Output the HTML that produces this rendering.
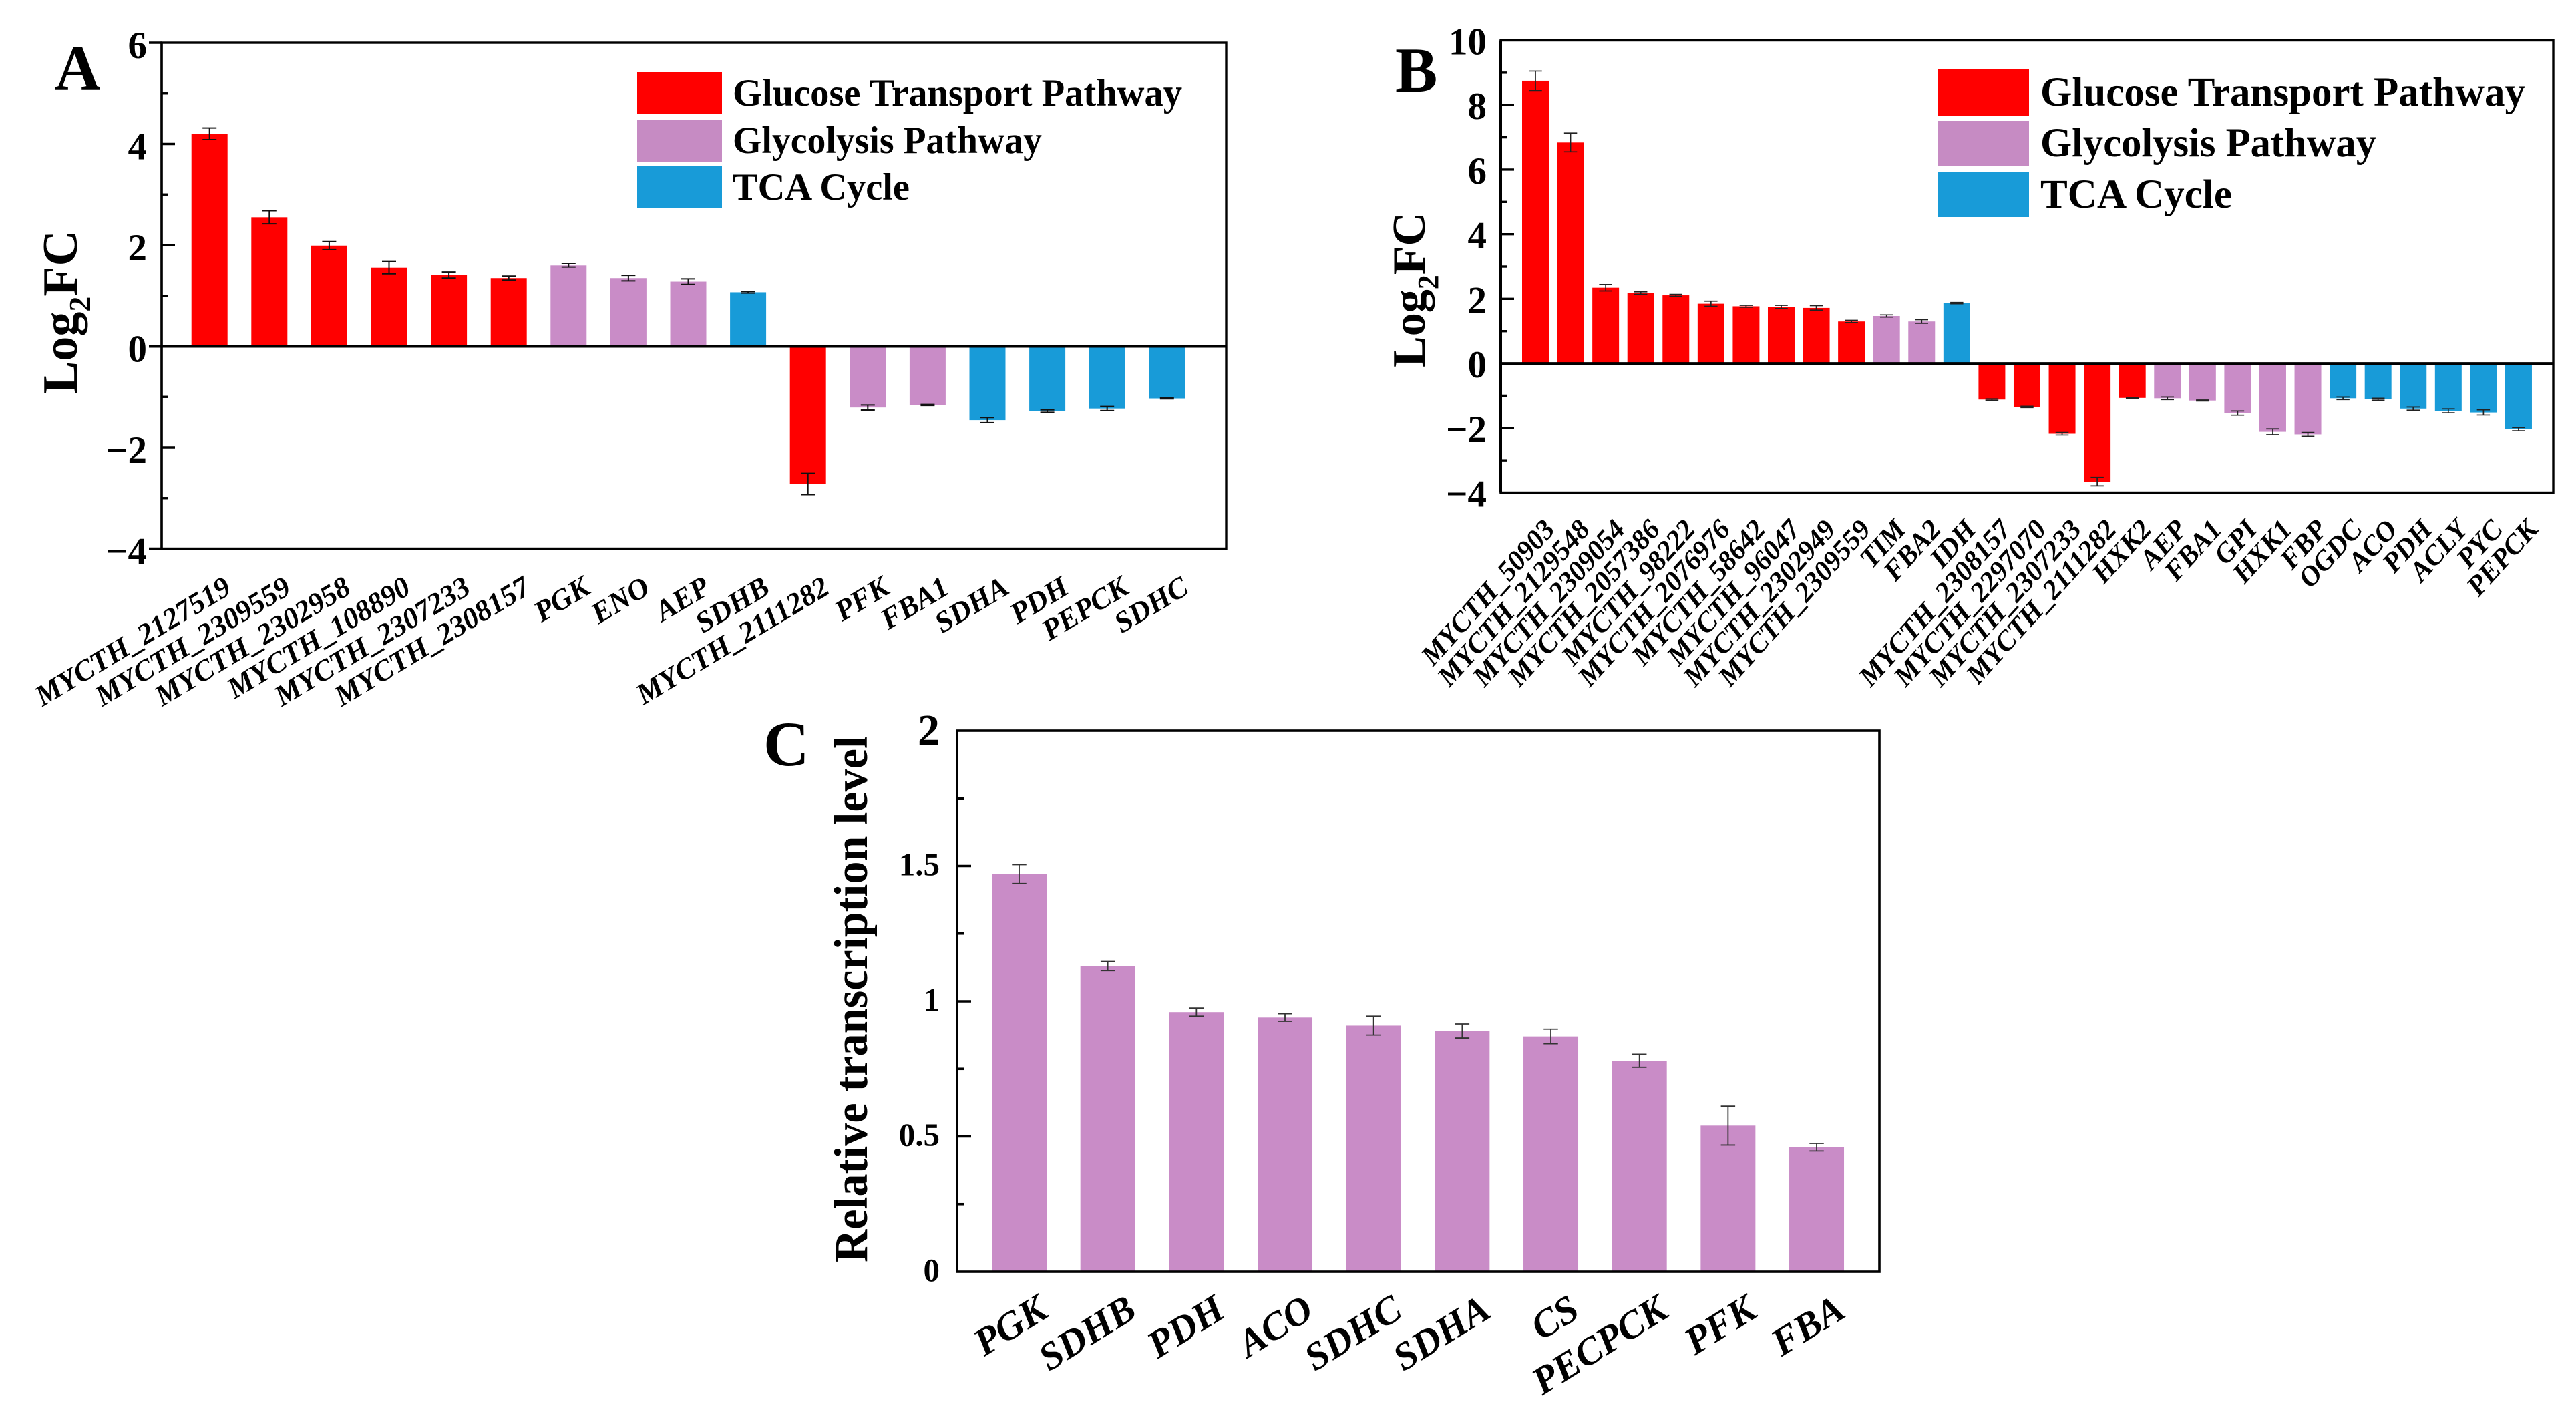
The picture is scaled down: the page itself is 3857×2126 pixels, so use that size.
<!DOCTYPE html>
<html lang="en">
<head>
<meta charset="utf-8">
<title>Log2FC and relative transcription level charts</title>
<style>
html,body{margin:0;padding:0;background:#fff;}
svg{display:block;}
text{font-family:"Liberation Serif",serif;font-weight:bold;fill:#000;}
</style>
</head>
<body>
<svg id="figure" xmlns="http://www.w3.org/2000/svg" width="3857" height="2126" viewBox="0 0 3857 2126">
  <rect x="0" y="0" width="3857" height="2126" fill="#fff"/>

  <g id="panel-a">
    <text x="82" y="134" font-size="95">A</text>
    <text transform="translate(115 590) rotate(-90)" font-size="74">Log<tspan dy="20" font-size="46">2</tspan><tspan dy="-20">FC</tspan></text>
    <g>
      <rect x="954" y="108" width="127" height="63" fill="#ff0000"/>
      <rect x="954" y="179" width="127" height="63" fill="#c68bc3"/>
      <rect x="954" y="249" width="127" height="63" fill="#189bd8"/>
      <text x="1097" y="158" font-size="57" textLength="673" lengthAdjust="spacingAndGlyphs">Glucose Transport Pathway</text>
      <text x="1097" y="229" font-size="57" textLength="463" lengthAdjust="spacingAndGlyphs">Glycolysis Pathway</text>
      <text x="1097" y="299" font-size="57" textLength="265" lengthAdjust="spacingAndGlyphs">TCA Cycle</text>
    </g>
  </g>

  <g id="panel-b">
    <text x="2089" y="137" font-size="95">B</text>
    <text transform="translate(2133 550) rotate(-90)" font-size="70">Log<tspan dy="20" font-size="44">2</tspan><tspan dy="-20">FC</tspan></text>
    <g>
      <rect x="2901" y="104" width="137" height="69" fill="#ff0000"/>
      <rect x="2901" y="181" width="137" height="68" fill="#c68bc3"/>
      <rect x="2901" y="257" width="137" height="68" fill="#189bd8"/>
      <text x="3055" y="158" font-size="61" textLength="726" lengthAdjust="spacingAndGlyphs">Glucose Transport Pathway</text>
      <text x="3055" y="234" font-size="61" textLength="503" lengthAdjust="spacingAndGlyphs">Glycolysis Pathway</text>
      <text x="3055" y="311" font-size="61" textLength="287" lengthAdjust="spacingAndGlyphs">TCA Cycle</text>
    </g>
  </g>

  <g id="panel-c">
    <text x="1143" y="1146" font-size="95">C</text>
    <text transform="translate(1298 1890) rotate(-90)" font-size="71" textLength="788" lengthAdjust="spacingAndGlyphs">Relative transcription level</text>
  </g>
</svg>

<script>
// ---- Panel A data ----
const aCategories = ["MYCTH_2127519","MYCTH_2309559","MYCTH_2302958","MYCTH_108890","MYCTH_2307233","MYCTH_2308157","PGK","ENO","AEP","SDHB","MYCTH_2111282","PFK","FBA1","SDHA","PDH","PEPCK","SDHC"];
const aValues = [4.2,2.55,1.99,1.555,1.41,1.35,1.6,1.35,1.28,1.07,-2.72,-1.21,-1.16,-1.46,-1.28,-1.23,-1.03];
const aErrors = [0.115,0.13,0.08,0.12,0.06,0.04,0.03,0.055,0.055,0.015,0.21,0.05,0.01,0.05,0.025,0.04,0.01];
const aPathways = ["glucose","glucose","glucose","glucose","glucose","glucose","glycolysis","glycolysis","glycolysis","tca","glucose","glycolysis","glycolysis","tca","tca","tca","tca"];
const aMajorTicks = [-4,-2,0,2,4,6];
const aMinorTicks = [-3,-1,1,3,5];
const aTickLabels = ["\u22124","\u22122","0","2","4","6"];

// ---- Panel B data ----
const bCategories = ["MYCTH_50903","MYCTH_2129548","MYCTH_2309054","MYCTH_2057386","MYCTH_98222","MYCTH_2076976","MYCTH_58642","MYCTH_96047","MYCTH_2302949","MYCTH_2309559","TIM","FBA2","IDH","MYCTH_2308157","MYCTH_2297070","MYCTH_2307233","MYCTH_2111282","HXK2","AEP","FBA1","GPI","HXK1","FBP","OGDC","ACO","PDH","ACLY","PYC","PEPCK"];
const bValues = [8.75,6.84,2.345,2.18,2.11,1.85,1.77,1.75,1.72,1.3,1.47,1.3,1.87,-1.12,-1.35,-2.18,-3.66,-1.07,-1.08,-1.15,-1.54,-2.12,-2.2,-1.08,-1.11,-1.4,-1.47,-1.52,-2.04];
const bErrors = [0.3,0.29,0.1,0.04,0.03,0.08,0.03,0.05,0.07,0.035,0.035,0.055,0.02,0.02,0.02,0.04,0.13,0.015,0.04,0.015,0.065,0.09,0.06,0.04,0.03,0.05,0.06,0.08,0.05];
const bPathways = ["glucose","glucose","glucose","glucose","glucose","glucose","glucose","glucose","glucose","glucose","glycolysis","glycolysis","tca","glucose","glucose","glucose","glucose","glucose","glycolysis","glycolysis","glycolysis","glycolysis","glycolysis","tca","tca","tca","tca","tca","tca"];
const bMajorTicks = [-4,-2,0,2,4,6,8,10];
const bMinorTicks = [-3,-1,1,3,5,7,9];
const bTickLabels = ["\u22124","\u22122","0","2","4","6","8","10"];

// ---- Panel C data ----
const cCategories = ["PGK","SDHB","PDH","ACO","SDHC","SDHA","CS","PECPCK","PFK","FBA"];
const cValues = [1.47,1.13,0.96,0.94,0.91,0.89,0.87,0.78,0.54,0.46];
const cErrors = [0.035,0.017,0.015,0.014,0.035,0.026,0.027,0.024,0.072,0.014];
const cPathways = ["glycolysis","glycolysis","glycolysis","glycolysis","glycolysis","glycolysis","glycolysis","glycolysis","glycolysis","glycolysis"];
const cMajorTicks = [0,0.5,1,1.5,2];
const cMinorTicks = [0.25,0.75,1.25,1.75];
const cTickLabels = ["0","0.5","1","1.5","2"];

const SVGNS = "http://www.w3.org/2000/svg";
const pathwayFill = { glucose: "#ff0000", glycolysis: "#c98cc7", tca: "#189bd8" };

function make(parent, tag, attrs, text) {
  const node = document.createElementNS(SVGNS, tag);
  for (const k in attrs) node.setAttribute(k, attrs[k]);
  if (text !== undefined) node.textContent = text;
  parent.appendChild(node);
  return node;
}

function drawChart(root, o) {
  const yScale = v => o.top + (o.yMax - v) / (o.yMax - o.yMin) * (o.bottom - o.top);
  const xScale = i => o.firstX + i * o.stepX;

  const bars = make(root, "g", {});
  
  

  o.values.forEach((v, i) => {
    const y0 = yScale(0), y1 = yScale(v), cx = xScale(i);
    const bar = make(bars, "rect", {
      x: cx - o.barW / 2, y: Math.min(y0, y1), width: o.barW,
      height: Math.abs(y1 - y0), fill: pathwayFill[o.pathways[i]]
    });
    
    
  });

  const errs = make(root, "g", { stroke: o.errColor, "stroke-width": o.errW, fill: "none" });
  
  

  o.values.forEach((v, i) => {
    const cx = xScale(i), hi = yScale(v + o.errors[i]), lo = yScale(v - o.errors[i]);
    const d = "M" + cx + " " + hi + "V" + lo +
      "M" + (cx - o.capW / 2) + " " + hi + "H" + (cx + o.capW / 2) +
      "M" + (cx - o.capW / 2) + " " + lo + "H" + (cx + o.capW / 2);
    const err = make(errs, "path", { d: d });
    
    
  });

  const axes = make(root, "g", { stroke: "#000", fill: "none" });
  
  

  const frame = make(axes, "rect", {
    x: o.left, y: o.top, width: o.right - o.left, height: o.bottom - o.top, "stroke-width": o.frameW
  });
  
  

  const leftAxis = make(axes, "line", {
    x1: o.left, y1: o.top, x2: o.left, y2: o.bottom, "stroke-width": o.axisW
  });
  
  

  if (o.yMin < 0) {
    const zero = make(axes, "line", {
      x1: o.left - o.tickOut, y1: yScale(0), x2: o.right, y2: yScale(0), "stroke-width": o.frameW + 0.6
    });
    
    
  }

  o.majorTicks.forEach((t, i) => {
    const edge = (t === o.yMax || t === o.yMin);
    const x1 = edge ? o.left - o.tickOut : o.left;
    const x2 = edge ? o.left : o.left + o.majorLen;
    if (t !== 0 || o.yMin === 0) {
      const tick = make(axes, "line", { x1: x1, y1: yScale(t), x2: x2, y2: yScale(t), "stroke-width": o.frameW });
      
      
    }
    const big = o.bigTop && t === o.yMax;
    const label = make(root, "text", {
      x: o.labelRight, y: yScale(t) + (big ? o.bigOffset : o.labelOffset),
      "font-size": big ? o.bigFont : o.tickFont, "text-anchor": "end"
    }, o.tickLabels[i]);
    
    
  });

  o.minorTicks.forEach(t => {
    const tick = make(axes, "line", {
      x1: o.left, y1: yScale(t), x2: o.left + o.minorLen, y2: yScale(t), "stroke-width": o.frameW
    });
    
    
  });

  o.categories.forEach((c, i) => {
    const ax = xScale(i) + o.catDx, ay = o.catY;
    const label = make(root, "text", {
      x: ax, y: ay, "font-size": o.catFont, "font-style": "italic", "text-anchor": "end",
      transform: "rotate(" + (-o.catAngle) + " " + ax + " " + ay + ")"
    }, c);
    
    
  });
}

drawChart(document.getElementById("panel-a"), {
  categories: aCategories, values: aValues, errors: aErrors, pathways: aPathways,
  majorTicks: aMajorTicks, minorTicks: aMinorTicks, tickLabels: aTickLabels,
  yMin: -4, yMax: 6, left: 242, right: 1836, top: 64, bottom: 821.5,
  firstX: 313.7, stepX: 89.6, barW: 54,
  errColor: "#111", errW: 2, capW: 21,
  frameW: 3.4, axisW: 3.4, tickOut: 19, majorLen: 20, minorLen: 10,
  labelRight: 220, labelOffset: 23, tickFont: 57,
  catDx: 35, catY: 887, catFont: 44, catAngle: 31
});

drawChart(document.getElementById("panel-b"), {
  categories: bCategories, values: bValues, errors: bErrors, pathways: bPathways,
  majorTicks: bMajorTicks, minorTicks: bMinorTicks, tickLabels: bTickLabels,
  yMin: -4, yMax: 10, left: 2247, right: 3823, top: 60.5, bottom: 737.5,
  firstX: 2299, stepX: 52.57, barW: 40,
  errColor: "#222", errW: 1.7, capW: 19.5,
  frameW: 3.4, axisW: 4, tickOut: 0, majorLen: 20, minorLen: 10,
  labelRight: 2226, labelOffset: 21, tickFont: 57,
  catDx: 31, catY: 794, catFont: 42, catAngle: 48
});

drawChart(document.getElementById("panel-c"), {
  categories: cCategories, values: cValues, errors: cErrors, pathways: cPathways,
  majorTicks: cMajorTicks, minorTicks: cMinorTicks, tickLabels: cTickLabels,
  yMin: 0, yMax: 2, left: 1433, right: 2814, top: 1094, bottom: 1904,
  firstX: 1526, stepX: 132.67, barW: 82,
  errColor: "#333", errW: 1.8, capW: 21.5,
  frameW: 3.6, axisW: 4, tickOut: 0, majorLen: 21, minorLen: 11,
  labelRight: 1407, labelOffset: 14, tickFont: 49,
  bigTop: true, bigFont: 66, bigOffset: 21,
  catDx: 46, catY: 1970, catFont: 58, catAngle: 32
});
</script>
</body>
</html>
